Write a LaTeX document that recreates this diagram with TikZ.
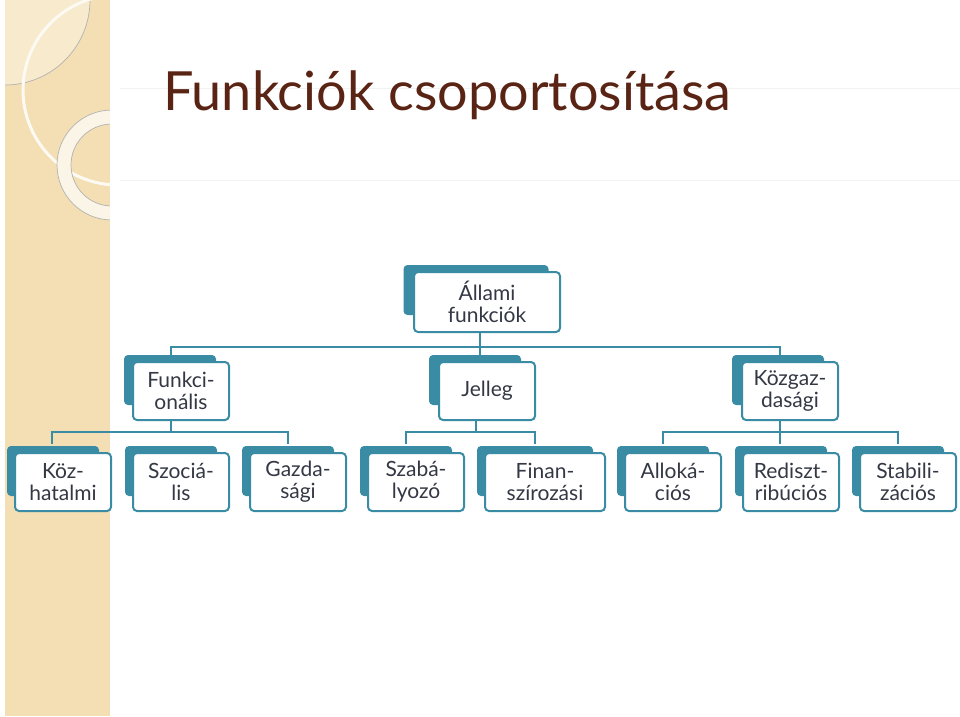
\documentclass[tikz,border=0pt]{standalone}
\usepackage{fontspec}
\setmainfont{Lato}
\definecolor{teal}{HTML}{3A8CA5}
\definecolor{txt}{HTML}{333844}
\definecolor{tan}{HTML}{F3DFB3}
\definecolor{title}{HTML}{5A2415}
\tikzset{
 front/.style={draw=teal,line width=2pt,fill=white,rounded corners=4pt,minimum width=96pt,minimum height=58pt,align=center,text=txt,font=\fontsize{21}{22}\selectfont,inner sep=1pt},
 back/.style={fill=teal,rounded corners=4pt,minimum width=92pt,minimum height=50pt},
 conn/.style={draw=teal,line width=2pt}
}
\begin{document}
\begin{tikzpicture}[x=1pt,y=-1pt]
\useasboundingbox (0,0) rectangle (960,716);
\fill[tan] (5,0) rectangle (110,716);
\begin{scope}
\clip (5,0) rectangle (110,716);
\fill[white,opacity=0.35] (5,0) circle (85);
\draw[black!30,line width=0.7pt] (5,0) circle (85);
\draw[white!85!tan,line width=3pt] (118,90) circle (95);
\draw[white!70!tan,line width=14pt] (112,165) circle (48);
\draw[black!30,line width=0.7pt] (112,165) circle (55);
\draw[black!30,line width=0.7pt] (112,165) circle (41);
\end{scope}
\draw[black!5,line width=1pt] (120,88) -- (960,88);
\draw[black!5,line width=1pt] (120,180) -- (960,180);
\node[anchor=base west,text=title,font=\fontsize{54}{56}\selectfont,inner sep=0] (t) at (163,110) {Funkciók csoportosítása};
% connectors
\draw[conn] (480,332) -- (480,347) -- (171,347) -- (171,356);
\draw[conn] (480,347) -- (780,347) -- (780,356);
\draw[conn] (480,347) -- (480,356);
\draw[conn] (171,420) -- (171,432) -- (52,432) -- (52,444);
\draw[conn] (171,432) -- (288,432) -- (288,444);
\draw[conn] (476,420) -- (476,432) -- (406,432) -- (406,444);
\draw[conn] (476,432) -- (535,432) -- (535,444);
\draw[conn] (780,420) -- (780,432) -- (663,432) -- (663,444);
\draw[conn] (780,432) -- (898,432) -- (898,444);
\draw[conn] (780,432) -- (780,444);
% boxes
\node[back,minimum width=145pt] at (476,290) {};
\node[front,minimum width=146pt,minimum height=60pt] (a) at (487,302) {Állami\\funkciók};
\node[back] at (170,380) {};
\node[front] (f) at (181,391) {Funkci-\\onális};
\node[back] at (475,380) {};
\node[front] (j) at (487,391) {Jelleg};
\node[back] at (778,380) {};
\node[front] (k) at (790,391) {Közgaz-\\dasági};
\foreach \n/\x/\t/\w in {b1/63/Köz-\\hatalmi/96pt, b2/181/Szociá-\\lis/96pt, b3/298/Gazda-\\sági/96pt, b4/416/Szabá-\\lyozó/96pt, b5/545/Finan-\\szírozási/120pt, b6/673/Alloká-\\ciós/96pt, b7/791/Rediszt-\\ribúciós/96pt, b8/908/Stabili-\\zációs/96pt}{
 \node[back,minimum width=\w-4pt] at (\x-10,471) {};
 \node[front,minimum width=\w] (\n) at (\x,482) {\t};
}
\end{tikzpicture}
\end{document}
